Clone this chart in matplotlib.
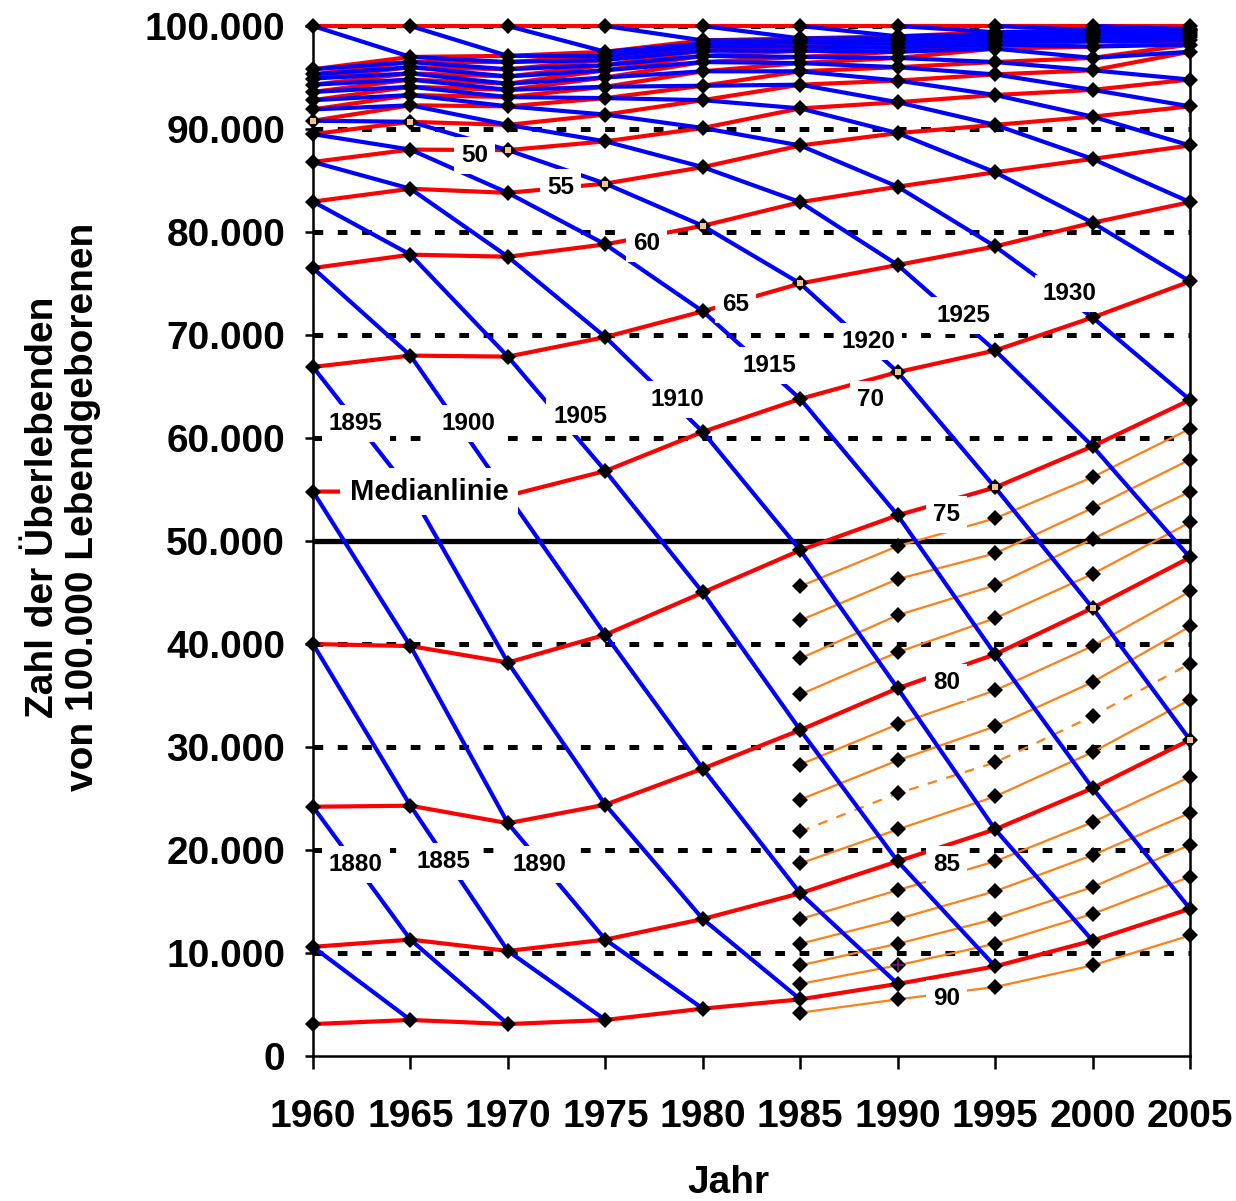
import matplotlib
matplotlib.use("Agg")
import matplotlib.pyplot as plt
from matplotlib.ticker import FuncFormatter

plt.rcParams['font.family'] = ['Liberation Sans', 'DejaVu Sans']
plt.rcParams['font.weight'] = 'bold'
plt.rcParams['lines.scale_dashes'] = False

# survivors out of 100.000 live births, by age (rows) and calendar year (columns)
years = [1960, 1965, 1970, 1975, 1980, 1985, 1990, 1995, 2000, 2005]

l00 = [100000] * 10
l05 = [95800, 97000, 97100, 97500, 98600, 98800, 99000, 99400, 99600, 99700]
l10 = [95300, 96500, 96500, 97100, 98300, 98600, 98800, 99200, 99450, 99600]
l15 = [94900, 96000, 95800, 96700, 98000, 98400, 98600, 99000, 99300, 99500]
l20 = [94300, 95400, 95100, 96200, 97600, 98000, 98300, 98800, 99100, 99300]
l25 = [93600, 94800, 94400, 95700, 97100, 97600, 97900, 98500, 98850, 99100]
l30 = [92800, 94100, 93800, 95000, 96500, 97000, 97500, 98200, 98500, 98900]
l35 = [91900, 93300, 93100, 94100, 95600, 96400, 96900, 97800, 98000, 98600]
l40 = [90800, 92300, 92200, 93000, 94200, 95600, 96000, 96500, 96900, 98200]
l45 = [89500, 90700, 90400, 91400, 92800, 94300, 94700, 95300, 95700, 97500]
l50 = [86800, 88000, 87950, 88800, 90100, 92000, 92600, 93300, 93800, 94800]
l55 = [82950, 84200, 83800, 84700, 86300, 88400, 89600, 90400, 91200, 92200]
l60 = [76500, 77800, 77600, 78800, 80600, 82900, 84400, 85800, 87100, 88400]
l65 = [66900, 68000, 67900, 69800, 72300, 75000, 76800, 78600, 80900, 82900]
l70 = [54800, 54800, 54400, 56800, 60600, 63800, 66400, 68500, 71700, 75200]
l75 = [40000, 39800, 38200, 40900, 45000, 49100, 52500, 55200, 59200, 63700]
l80 = [24200, 24300, 22600, 24400, 27900, 31650, 35700, 39000, 43500, 48400]
l85 = [10600, 11300, 10200, 11300, 13300, 15800, 18900, 22000, 26000, 30700]
l90 = [3100, 3500, 3100, 3500, 4600, 5500, 7000, 8700, 11200, 14300]

# single years of age, available from 1985 on
years_single = [1985, 1990, 1995, 2000, 2005]
l76 = [45600, 49500, 52200, 56200, 60900]
l77 = [42300, 46300, 48800, 53200, 57900]
l78 = [38600, 42800, 45700, 50200, 54800]
l79 = [35100, 39200, 42500, 46800, 51800]
l81 = [28300, 32200, 35500, 39800, 45100]
l82 = [24900, 28700, 32000, 36300, 41700]
l83 = [21800, 25500, 28500, 33000, 38100]
l84 = [18700, 22000, 25200, 29500, 34600]
l86 = [13300, 16100, 18900, 22700, 27100]
l87 = [10900, 13300, 16000, 19500, 23600]
l88 = [8800, 10900, 13300, 16400, 20500]
l89 = [7000, 8800, 10900, 13800, 17400]
l91 = [4200, 5500, 6700, 8800, 11700]

ages = list(range(0, 95, 5))
table = dict(zip(ages, [l00, l05, l10, l15, l20, l25, l30, l35, l40, l45,
                        l50, l55, l60, l65, l70, l75, l80, l85, l90]))
single = {76: l76, 77: l77, 78: l78, 79: l79, 81: l81, 82: l82, 83: l83,
          84: l84, 86: l86, 87: l87, 88: l88, 89: l89, 91: l91}

cohorts = list(range(1870, 2010, 5))
marked_cohort = 1920

RED = '#ff0000'
BLUE = '#0000ff'
ORANGE = '#ff7f17'

fig = plt.figure(figsize=(12.36, 12.01), dpi=100)
ax = fig.add_axes([313 / 1236, 1 - 1056 / 1201, 877 / 1236, 1030 / 1201])
ax.set_xlim(1960, 2005)
ax.set_ylim(0, 100000)

# horizontal reference lines
for y in range(10000, 100001, 10000):
    if y == 50000:
        ax.axhline(y, color='black', lw=3.8, zorder=1)
    else:
        ax.axhline(y, color='black', lw=3.6, dashes=(7, 10.5), zorder=1)

# single-year age lines
for age, vals in single.items():
    ax.plot(years_single, vals, color=ORANGE, lw=1.6, zorder=2, clip_on=False,
            dashes=(7, 7) if age == 83 else (None, None))

# age lines (red)
for age, vals in table.items():
    ax.plot(years, vals, color=RED, lw=3.0, zorder=3, clip_on=False)

# cohort lines (blue)
cohort_pts = {}
for c in cohorts:
    xs, ys = [], []
    for i, t in enumerate(years):
        a = t - c
        if a in table:
            xs.append(t)
            ys.append(table[a][i])
    cohort_pts[c] = (xs, ys)
    if len(xs) > 1:
        ax.plot(xs, ys, color=BLUE, lw=3.0, zorder=4, clip_on=False)

# black diamonds on every table value
for age, vals in table.items():
    ax.plot(years, vals, ls='none', marker='D', ms=8.6, mew=0, color='black',
            zorder=6, clip_on=False)
for age, vals in single.items():
    ax.plot(years_single, vals, ls='none', marker='D', ms=8.6, mew=0,
            color='black', zorder=6, clip_on=False)

# cohort 1920 highlighted with small markers
xs, ys = cohort_pts[marked_cohort]
ax.plot(xs, ys, ls='none', marker='s', ms=4, mew=0, color='#f7c08f',
        zorder=7, clip_on=False)
ax.plot([1990], [l89[1]], ls='none', marker='+', ms=8, mew=1.2,
        color='#7a1a7a', zorder=7)

# labels for ages and birth cohorts
box = dict(facecolor='white', edgecolor='none', pad=5)
age_labels = [(50, 1968.3, 87400), (55, 1972.7, 84300), (60, 1977.1, 78900),
              (65, 1981.7, 73000), (70, 1988.6, 63700), (75, 1992.5, 52600),
              (80, 1992.5, 36300), (85, 1992.5, 18600), (90, 1992.5, 5600)]
for txt, x, y in age_labels:
    ax.text(x, y, str(txt), fontsize=17.5, ha='center', va='center',
            bbox=box, zorder=10)

cohort_labels = [(1880, 1962.2, 18600), (1885, 1966.7, 18900),
                 (1890, 1971.6, 18600), (1895, 1962.2, 61400),
                 (1900, 1968.0, 61400), (1905, 1973.7, 62100),
                 (1910, 1978.7, 63700), (1915, 1983.4, 67000),
                 (1920, 1988.5, 69400), (1925, 1993.4, 71900),
                 (1930, 1998.8, 74000)]
for txt, x, y in cohort_labels:
    ax.text(x, y, str(txt), fontsize=17.5, ha='center', va='center',
            bbox=box, zorder=10)

ax.text(1961.9, 54800, 'Medianlinie', fontsize=21, ha='left', va='center',
        bbox=dict(facecolor='white', edgecolor='none', pad=7), zorder=10)

# axes styling
ax.spines['top'].set_visible(False)
for s in ('left', 'right', 'bottom'):
    ax.spines[s].set_linewidth(1.8)
ax.set_xticks(years)
ax.set_yticks(range(0, 100001, 10000))
ax.yaxis.set_major_formatter(FuncFormatter(lambda v, p: f"{int(v):,}".replace(',', '.')))
ax.tick_params(axis='x', length=9, width=1.8, pad=22, labelsize=28)
ax.tick_params(axis='y', length=6, width=1.8, pad=14, labelsize=28)
for lab in ax.get_xticklabels() + ax.get_yticklabels():
    lab.set_fontweight('bold')

fig.text(63 / 1236, 1 - 507 / 1201,
         'Zahl der Überlebenden\nvon 100.000 Lebendgeborenen',
         rotation=90, ha='center', va='center', multialignment='center',
         fontsize=28, fontweight='bold', linespacing=1.15)
fig.text(728 / 1236, 1 - 1183 / 1201, 'Jahr', ha='center', va='center',
         fontsize=28, fontweight='bold')

fig.savefig('out.png', dpi=100, facecolor='white')
